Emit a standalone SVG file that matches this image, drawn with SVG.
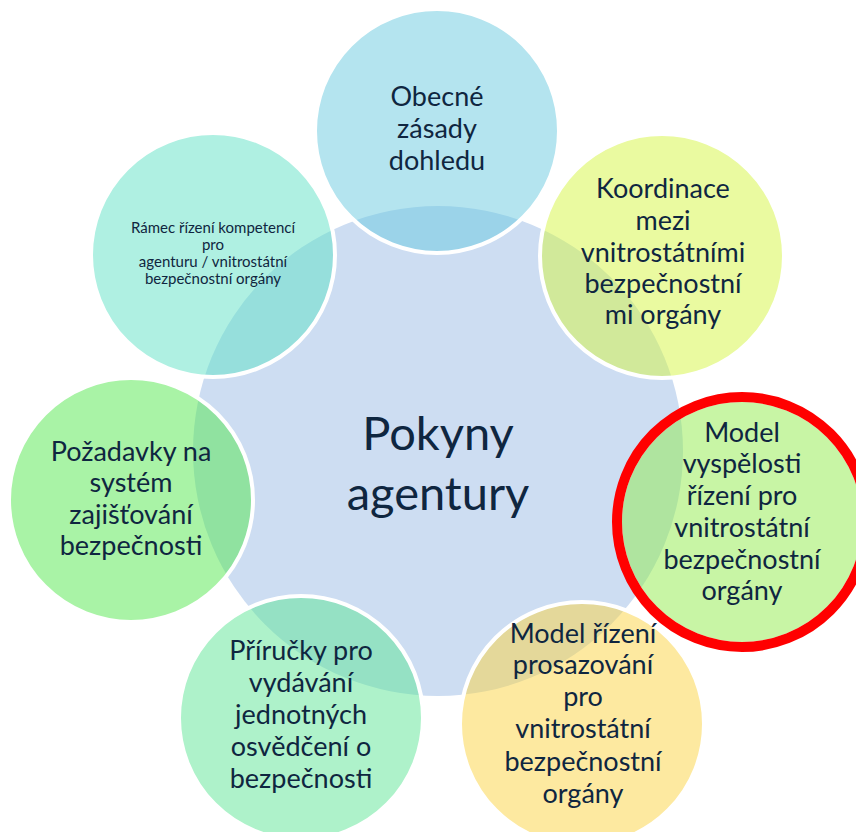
<svg xmlns="http://www.w3.org/2000/svg" width="856" height="832" viewBox="0 0 856 832">
<style>
.c { stroke:#ffffff; stroke-width:4; fill-opacity:0.5 }
.t { font-family: Lato, "Liberation Sans", sans-serif; fill:#0F2640; text-anchor:middle; font-size:27px }
.s { font-size:15px }
.big { font-size:47px }
</style>
<rect width="856" height="832" fill="#ffffff"/>
<g id="center">
  <circle cx="438" cy="451" r="245" fill="#CDDDF2"/>
</g>
<g id="connectors"></g>
<g id="n1">
  <circle class="c" cx="437" cy="131" r="122" fill="#69C9DF"/>
  <text class="t" x="437" y="106">Obecné</text>
  <text class="t" x="437" y="138">zásady</text>
  <text class="t" x="437" y="170">dohledu</text>
</g>
<g id="n2">
  <circle class="c" cx="662" cy="256" r="122" fill="#D5F541"/>
  <text class="t" x="663" y="198">Koordinace</text>
  <text class="t" x="663" y="230">mezi</text>
  <text class="t" x="663" y="262">vnitrostátními</text>
  <text class="t" x="663" y="293">bezpečnostní</text>
  <text class="t" x="663" y="324">mi orgány</text>
</g>
<g id="n3">
  <circle class="c" cx="742" cy="522" r="122" fill="#91EB4B"/>
  <circle cx="742" cy="522" r="125" fill="none" stroke="#FF0000" stroke-width="10"/>
  <text class="t" x="742" y="442">Model</text>
  <text class="t" x="742" y="473">vyspělosti</text>
  <text class="t" x="742" y="505">řízení pro</text>
  <text class="t" x="742" y="537">vnitrostátní</text>
  <text class="t" x="742" y="569">bezpečnostní</text>
  <text class="t" x="742" y="600">orgány</text>
</g>
<g id="n4">
  <circle class="c" cx="582" cy="724" r="122" fill="#FBD341"/>
  <text class="t" x="583" y="643">Model řízení</text>
  <text class="t" x="583" y="674">prosazování</text>
  <text class="t" x="583" y="706">pro</text>
  <text class="t" x="583" y="738">vnitrostátní</text>
  <text class="t" x="583" y="771">bezpečnostní</text>
  <text class="t" x="583" y="803">orgány</text>
</g>
<g id="n5">
  <circle class="c" cx="301" cy="718" r="122" fill="#5DE595"/>
  <text class="t" x="301" y="660">Příručky pro</text>
  <text class="t" x="301" y="692">vydávání</text>
  <text class="t" x="301" y="724">jednotných</text>
  <text class="t" x="301" y="756">osvědčení o</text>
  <text class="t" x="301" y="788">bezpečnosti</text>
</g>
<g id="n6">
  <circle class="c" cx="131" cy="500" r="122" fill="#53E74D"/>
  <text class="t" x="131" y="461">Požadavky na</text>
  <text class="t" x="131" y="492">systém</text>
  <text class="t" x="131" y="524">zajišťování</text>
  <text class="t" x="131" y="555">bezpečnosti</text>
</g>
<g id="n7">
  <circle class="c" cx="213" cy="255" r="122" fill="#5FE1C5"/>
  <text class="t s" x="213" y="233">Rámec řízení kompetencí</text>
  <text class="t s" x="213" y="250">pro</text>
  <text class="t s" x="213" y="267">agenturu / vnitrostátní</text>
  <text class="t s" x="213" y="284">bezpečnostní orgány</text>
</g>
<g id="center-label">
  <text class="t big" x="438" y="450">Pokyny</text>
  <text class="t big" x="438" y="510">agentury</text>
</g>
</svg>
